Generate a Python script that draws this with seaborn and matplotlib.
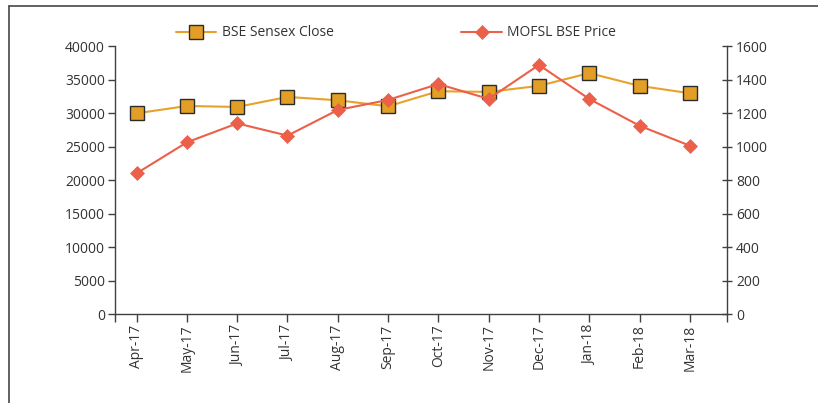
import matplotlib
matplotlib.use("Agg")
import matplotlib.pyplot as plt
import seaborn as sns
import numpy as np
import pandas as pd
from matplotlib.lines import Line2D

# Values
months = ['Apr-17', 'May-17', 'Jun-17', 'Jul-17', 'Aug-17', 'Sep-17',
          'Oct-17', 'Nov-17', 'Dec-17', 'Jan-18', 'Feb-18', 'Mar-18']
sensex_close = [29950, 31050, 30900, 32400, 31900, 31000,
                33250, 33150, 34050, 35950, 34050, 32950]
mofsl_price = [840, 1025, 1138, 1065, 1218, 1278,
               1373, 1284, 1487, 1284, 1124, 1005]

df = pd.DataFrame({'month': months, 'sensex': sensex_close, 'mofsl': mofsl_price})
df['pos'] = np.arange(len(months))

sns.set_style("ticks")
plt.rcParams['font.family'] = ['Open Sans', 'DejaVu Sans']
plt.rcParams['text.color'] = '#333333'
plt.rcParams['xtick.color'] = '#404040'
plt.rcParams['ytick.color'] = '#404040'
plt.rcParams['xtick.labelcolor'] = '#333333'
plt.rcParams['ytick.labelcolor'] = '#333333'

fig = plt.figure(figsize=(8.18, 4.03), dpi=100)
ax = fig.add_axes([114.5 / 818, 1 - 314 / 403, (727 - 114.5) / 818, (314 - 46) / 403])
ax2 = ax.twinx()

orange = '#E8A229'
coral = '#EC604A'

sns.lineplot(data=df, x='pos', y='sensex', ax=ax, color=orange, linewidth=1.5,
             marker='s', markersize=9.6, markerfacecolor='#E39F25',
             markeredgecolor='#2b2b2b', markeredgewidth=1.0,
             label='BSE Sensex Close', legend=False)
sns.lineplot(data=df, x='pos', y='mofsl', ax=ax2, color=coral, linewidth=1.5,
             marker='D', markersize=7.0, markerfacecolor=coral,
             markeredgecolor=coral, markeredgewidth=0.5,
             label='MOFSL BSE Price', legend=False)

ax.set_xlim(-0.44, 11.74)
ax.set_ylim(0, 40000)
ax2.set_ylim(0, 1600)
ax.set_yticks(np.arange(0, 40001, 5000))
ax2.set_yticks(np.arange(0, 1601, 200))
ax.set_xticks(df['pos'])
ax.set_xticklabels(months, rotation=90)
ax.set_xticks([-0.44, 11.74], minor=True)

for a in (ax, ax2):
    a.set_xlabel('')
    a.set_ylabel('')
    a.spines['top'].set_visible(False)
    for s in a.spines.values():
        s.set_color('#404040')
        s.set_linewidth(1.0)
ax.spines['right'].set_visible(False)
ax2.spines['left'].set_visible(False)
ax2.spines['bottom'].set_visible(False)

ax.tick_params(axis='y', direction='out', length=5, width=1, pad=2, labelsize=10)
ax.tick_params(axis='x', which='both', direction='out', length=5.5, width=1, pad=2, labelsize=10)
ax2.tick_params(axis='y', direction='inout', length=7, width=1, pad=3, labelsize=10)

handles = [ax.lines[0], ax2.lines[0]]
fig.legend(handles, ['BSE Sensex Close', 'MOFSL BSE Price'], loc='center',
           bbox_to_anchor=(396 / 818, 1 - 33 / 403), ncol=2, frameon=False,
           fontsize=10, handlelength=2.9, columnspacing=9.2, handletextpad=0.4)

# outer frame (left and top edges)
fig.add_artist(Line2D([8.5 / 818, 8.5 / 818], [0, 1 - 5.5 / 403], transform=fig.transFigure,
                      color='#555555', linewidth=1.3))
fig.add_artist(Line2D([8.5 / 818, 1], [1 - 5.5 / 403, 1 - 5.5 / 403], transform=fig.transFigure,
                      color='#555555', linewidth=1.3))

fig.savefig('out.png', dpi=100)
